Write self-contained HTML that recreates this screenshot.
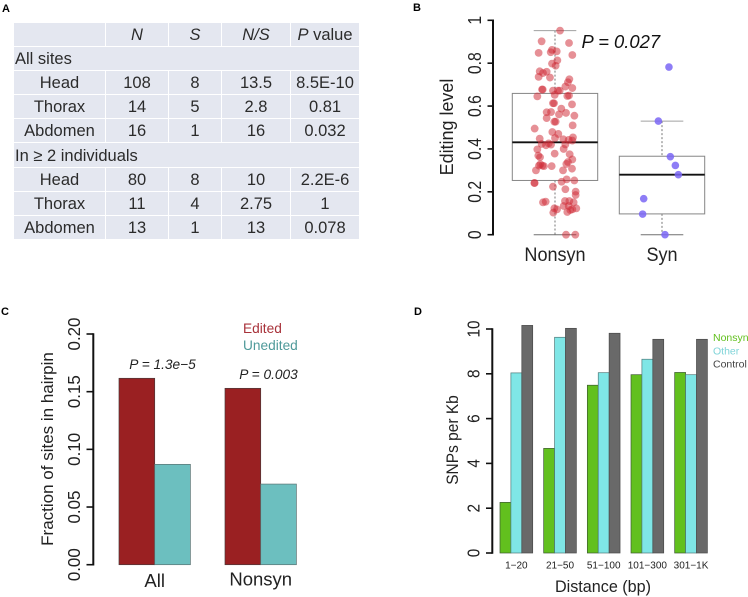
<!DOCTYPE html>
<html>
<head>
<meta charset="utf-8">
<title>Editing figure</title>
<style>
html,body{margin:0;padding:0;background:#fff;}
body{width:748px;height:597px;position:relative;overflow:hidden;font-family:"Liberation Sans",sans-serif;color:#2b2b2b;}
svg{position:absolute;left:0;top:0;}
svg text{font-family:"Liberation Sans",sans-serif;}
table{position:absolute;left:13px;top:22px;border-collapse:separate;border-spacing:1px;table-layout:fixed;width:347px;font-size:16.5px;}
td{background:#e4e7f0;height:22px;padding:1px 0 0 0;text-align:center;line-height:22px;white-space:nowrap;}
td.h{text-align:left;padding-left:1px;}
tr.tall td{height:23px;}
i{font-style:italic;}
</style>
</head>
<body>
<table>
<colgroup><col style="width:91px"><col style="width:62px"><col style="width:52px"><col style="width:68px"><col style="width:68px"></colgroup>
<tr><td></td><td><i>N</i></td><td><i>S</i></td><td><i>N/S</i></td><td><i>P</i> value</td></tr>
<tr><td class="h" colspan="5">All sites</td></tr>
<tr><td>Head</td><td>108</td><td>8</td><td>13.5</td><td>8.5E-10</td></tr>
<tr><td>Thorax</td><td>14</td><td>5</td><td>2.8</td><td>0.81</td></tr>
<tr><td>Abdomen</td><td>16</td><td>1</td><td>16</td><td>0.032</td></tr>
<tr class="tall"><td class="h" colspan="5">In ≥ 2 individuals</td></tr>
<tr><td>Head</td><td>80</td><td>8</td><td>10</td><td>2.2E-6</td></tr>
<tr><td>Thorax</td><td>11</td><td>4</td><td>2.75</td><td>1</td></tr>
<tr><td>Abdomen</td><td>13</td><td>1</td><td>13</td><td>0.078</td></tr>
</table>
<svg id="fig" width="748" height="597" viewBox="0 0 748 597" xmlns="http://www.w3.org/2000/svg"></svg>
<script>
// Panel B data
const boxCategories = ['Nonsyn', 'Syn'];
const boxTicks = [0, 0.2, 0.4, 0.6, 0.8, 1];
const boxTickLabels = ['0', '0.2', '0.4', '0.6', '0.8', '1'];
const nonsynStats = [0, 0.253, 0.431, 0.659, 0.952];
const synStats = [0, 0.097, 0.28, 0.366, 0.53];
const nonsynValues = [.952,.902,.894,.848,.862,.851,.855,.838,.813,.798,.788,.762,.754,.760,.736,.733,.725,.711,.691,.684,.677,.677,.672,.672,.672,.652,.645,.647,.649,.613,.613,.608,.588,.571,.572,.561,.568,.555,.544,.527,.527,.510,.495,.479,.470,.451,.448,.454,.445,.442,.439,.423,.417,.420,.426,.421,.398,.400,.378,.369,.361,.375,.328,.322,.322,.320,.320,.339,.351,.330,.308,.300,.300,.241,.241,.224,.247,.258,.253,.212,.201,.185,.151,.154,.123,.118,.103,.157,.151,.157,.134,.134,.123,.106,.115,.118,0,0];
const nonsynJitter = [.047,-.125,.131,-.153,-.028,-.040,.016,.162,.022,-.028,.006,-.143,-.112,-.078,-.153,-.047,.134,.121,.097,.162,-.121,-.115,-.019,.028,.044,-.003,-.165,.115,.131,-.019,-.009,.159,.059,-.078,-.037,.037,.103,.181,-.078,-.006,.006,.165,-.19,-.025,.031,0,-.143,.168,.078,.128,.162,-.125,-.084,-.037,-.059,.097,-.165,.081,-.003,-.156,-.14,.137,-.137,-.118,-.15,-.103,-.031,.121,.162,.106,.159,-.178,.075,-.193,-.19,-.019,.062,.109,.181,.097,.193,.193,-.112,-.087,-.006,.019,-.016,.093,.174,.134,.081,.128,.199,.115,.143,.162,.103,.19];
const synValues = [.782,.530,.364,.323,.280,.168,.096,0];
const synJitter = [.065,-.034,.078,.125,.153,-.171,-.181,.028];
// Panel C data
const hairpinCategories = ['All', 'Nonsyn'];
const hairpinEdited = [0.1616, 0.1529];
const hairpinUnedited = [0.087, 0.0699];
const hairpinPValues = ['P = 1.3e\u22125', 'P = 0.003'];
const hairpinTicks = [0, 0.05, 0.1, 0.15, 0.2];
const hairpinTickLabels = ['0.00', '0.05', '0.10', '0.15', '0.20'];
// Panel D data
const distanceCategories = ['1\u221220', '21\u221250', '51\u2212100', '101\u2212300', '301\u22121K'];
const snpNonsyn = [2.26, 4.67, 7.49, 7.96, 8.06];
const snpOther = [8.04, 9.63, 8.05, 8.65, 7.96];
const snpControl = [10.16, 10.03, 9.81, 9.54, 9.54];
const snpTicks = [0, 2, 4, 6, 8, 10];
const snpTickLabels = ['0', '2', '4', '6', '8', '10'];

const svg = document.getElementById('fig');
const NS = 'http://www.w3.org/2000/svg';
function mk(tag, attrs, parent) {
  const el = document.createElementNS(NS, tag);
  for (const k in attrs) el.setAttribute(k, attrs[k]);
  (parent || svg).appendChild(el);
  return el;
}
function line(x1, y1, x2, y2, stroke, w, name, dash) {
  const el = mk('line', {x1: x1, y1: y1, x2: x2, y2: y2, stroke: stroke, 'stroke-width': w});
  if (dash) el.setAttribute('stroke-dasharray', dash);
  
  
  return el;
}
function text(x, y, str, size, name, opts) {
  const o = opts || {};
  const el = mk('text', {x: x, y: y, 'font-size': size, fill: o.fill || '#222', 'text-anchor': o.anchor || 'middle'});
  if (o.italic) el.setAttribute('font-style', 'italic');
  if (o.bold) el.setAttribute('font-weight', 'bold');
  let tf = '';
  if (o.rot) tf += 'rotate(-90 ' + x + ' ' + y + ') ';
  if (o.sx) tf += 'translate(' + x + ' ' + y + ') scale(' + o.sx + ' 1) translate(' + (-x) + ' ' + (-y) + ')';
  if (tf) el.setAttribute('transform', tf);
  el.textContent = str;
  
  
  return el;
}
function rect(x, y, w, h, fill, stroke, sw, name) {
  const el = mk('rect', {x: x, y: y, width: w, height: h, fill: fill, stroke: stroke, 'stroke-width': sw});
  
  
  return el;
}
function yAxis(x, tickLeft, ys, labels, labelX, size, sx, prefix) {
  line(x, ys[0] + 0.8, x, ys[ys.length - 1] - 0.8, '#111', 2, prefix + '-y-axis');
  ys.forEach(function (y, i) {
    line(tickLeft, y, x, y, '#111', 1.6, prefix + '-y-tick');
    text(labelX, y, labels[i], size, prefix + '-y-tick-label', {rot: true, sx: sx});
  });
}

text(6, 12, 'A', 11, 'panel-a-label', {bold: true, fill: '#000'});
text(417, 11, 'B', 11, 'panel-b-label', {bold: true, fill: '#000'});
text(5, 315, 'C', 11, 'panel-c-label', {bold: true, fill: '#000'});
text(418, 315, 'D', 11, 'panel-d-label', {bold: true, fill: '#000'});

// ---- Panel B ----
const yB = function (v) { return 234.7 - v * 214.4; };
const xB = function (c) { return 555 + c * 107; };
yAxis(493, 487.5, boxTicks.map(yB), boxTickLabels, 481, 18.5, 0.85, 'editing');
text(453, 127, 'Editing level', 18.5, 'editing-y-title', {rot: true, sx: 0.97});
function drawBox(stats, c, name) {
  const cx = xB(c), hw = 42.7, capw = 21.3;
  line(cx, yB(stats[4]), cx, yB(stats[3]), '#555', 0.8, name + '-upper-whisker', '2 2');
  line(cx, yB(stats[1]), cx, yB(stats[0]), '#555', 0.8, name + '-lower-whisker', '2 2');
  line(cx - capw, yB(stats[4]), cx + capw, yB(stats[4]), '#a0a0a0', 1, name + '-upper-cap');
  line(cx - capw, yB(stats[0]), cx + capw, yB(stats[0]), '#707070', 1, name + '-lower-cap');
  rect(cx - hw, yB(stats[3]), 2 * hw, yB(stats[1]) - yB(stats[3]), 'none', '#868686', 1, name + '-box');
  line(cx - hw, yB(stats[2]), cx + hw, yB(stats[2]), '#111', 1.8, name + '-median');
}
drawBox(nonsynStats, 0, 'nonsyn');
drawBox(synStats, 1, 'syn');
nonsynValues.forEach(function (v, i) {
  const el = mk('circle', {cx: xB(nonsynJitter[i]), cy: yB(v), r: 3.9, fill: '#d02a35', 'fill-opacity': 0.52});
  
  
});
synValues.forEach(function (v, i) {
  const el = mk('circle', {cx: xB(1 + synJitter[i]), cy: yB(v), r: 3.8, fill: '#7a66f5', 'fill-opacity': 0.85});
  
  
});
boxCategories.forEach(function (c, i) {
  text(xB(i), 261, c, 19, 'editing-category-label', {sx: 0.95});
});
text(581.5, 48, 'P = 0.027', 18.4, 'editing-p-value', {anchor: 'start', italic: true, fill: '#111'});

// ---- Panel C ----
const yC = function (v) { return 564.7 - v * 1153.5; };
const xC = [119, 225];
const wC = 35.7;
yAxis(93.3, 86.5, hairpinTicks.map(yC), hairpinTickLabels, 80, 18, 0.94, 'hairpin');
text(53, 449, 'Fraction of sites in hairpin', 17, 'hairpin-y-title', {rot: true});
hairpinCategories.forEach(function (c, i) {
  rect(xC[i], yC(hairpinEdited[i]), wC, yC(0) - yC(hairpinEdited[i]), '#9a2022', '#4a3a3a', 0.7, 'hairpin-bar-edited');
  rect(xC[i] + wC, yC(hairpinUnedited[i]), wC, yC(0) - yC(hairpinUnedited[i]), '#6cbfbf', '#5a7272', 0.7, 'hairpin-bar-unedited');
  text(xC[i] + wC, i === 0 ? 587 : 585.5, c, 18.5, 'hairpin-category-label', {});
});
text(162.5, 369, hairpinPValues[0], 13.7, 'hairpin-p-value', {italic: true});
text(268.5, 379, hairpinPValues[1], 13.7, 'hairpin-p-value', {italic: true});
text(243, 333, 'Edited', 13.7, 'legend-edited', {anchor: 'start', fill: '#a8323a'});
text(243, 350, 'Unedited', 13.7, 'legend-unedited', {anchor: 'start', fill: '#4f9a9a'});

// ---- Panel D ----
const yD = function (v) { return 553 - v * 22.4; };
const xD = function (g, s) { return 500 + g * 43.67 + s * 10.9; };
yAxis(492.3, 486, snpTicks.map(yD), snpTickLabels, 479.5, 18, 0.85, 'snp');
text(458, 440, 'SNPs per Kb', 16.5, 'snp-y-title', {rot: true, sx: 0.94});
distanceCategories.forEach(function (c, g) {
  rect(xD(g, 0), yD(snpNonsyn[g]), 10.9, yD(0) - yD(snpNonsyn[g]), '#62c01e', '#3d5a30', 0.7, 'snp-bar-nonsyn');
  rect(xD(g, 1), yD(snpOther[g]), 10.9, yD(0) - yD(snpOther[g]), '#7fe6e6', '#4f7a7a', 0.7, 'snp-bar-other');
  rect(xD(g, 2), yD(snpControl[g]), 10.9, yD(0) - yD(snpControl[g]), '#696969', '#4a4a4a', 0.7, 'snp-bar-control');
  text(xD(g, 1.5), 568.5, c, 10, 'distance-tick-label', {});
});
text(603, 592, 'Distance (bp)', 17, 'distance-x-title', {sx: 0.95});
text(713, 341, 'Nonsyn', 10.5, 'legend-nonsyn', {anchor: 'start', fill: '#62c01e'});
text(713, 354.5, 'Other', 10.5, 'legend-other', {anchor: 'start', fill: '#7fd4d8'});
text(713, 367.5, 'Control', 10.5, 'legend-control', {anchor: 'start', fill: '#444'});
</script>
</body>
</html>
